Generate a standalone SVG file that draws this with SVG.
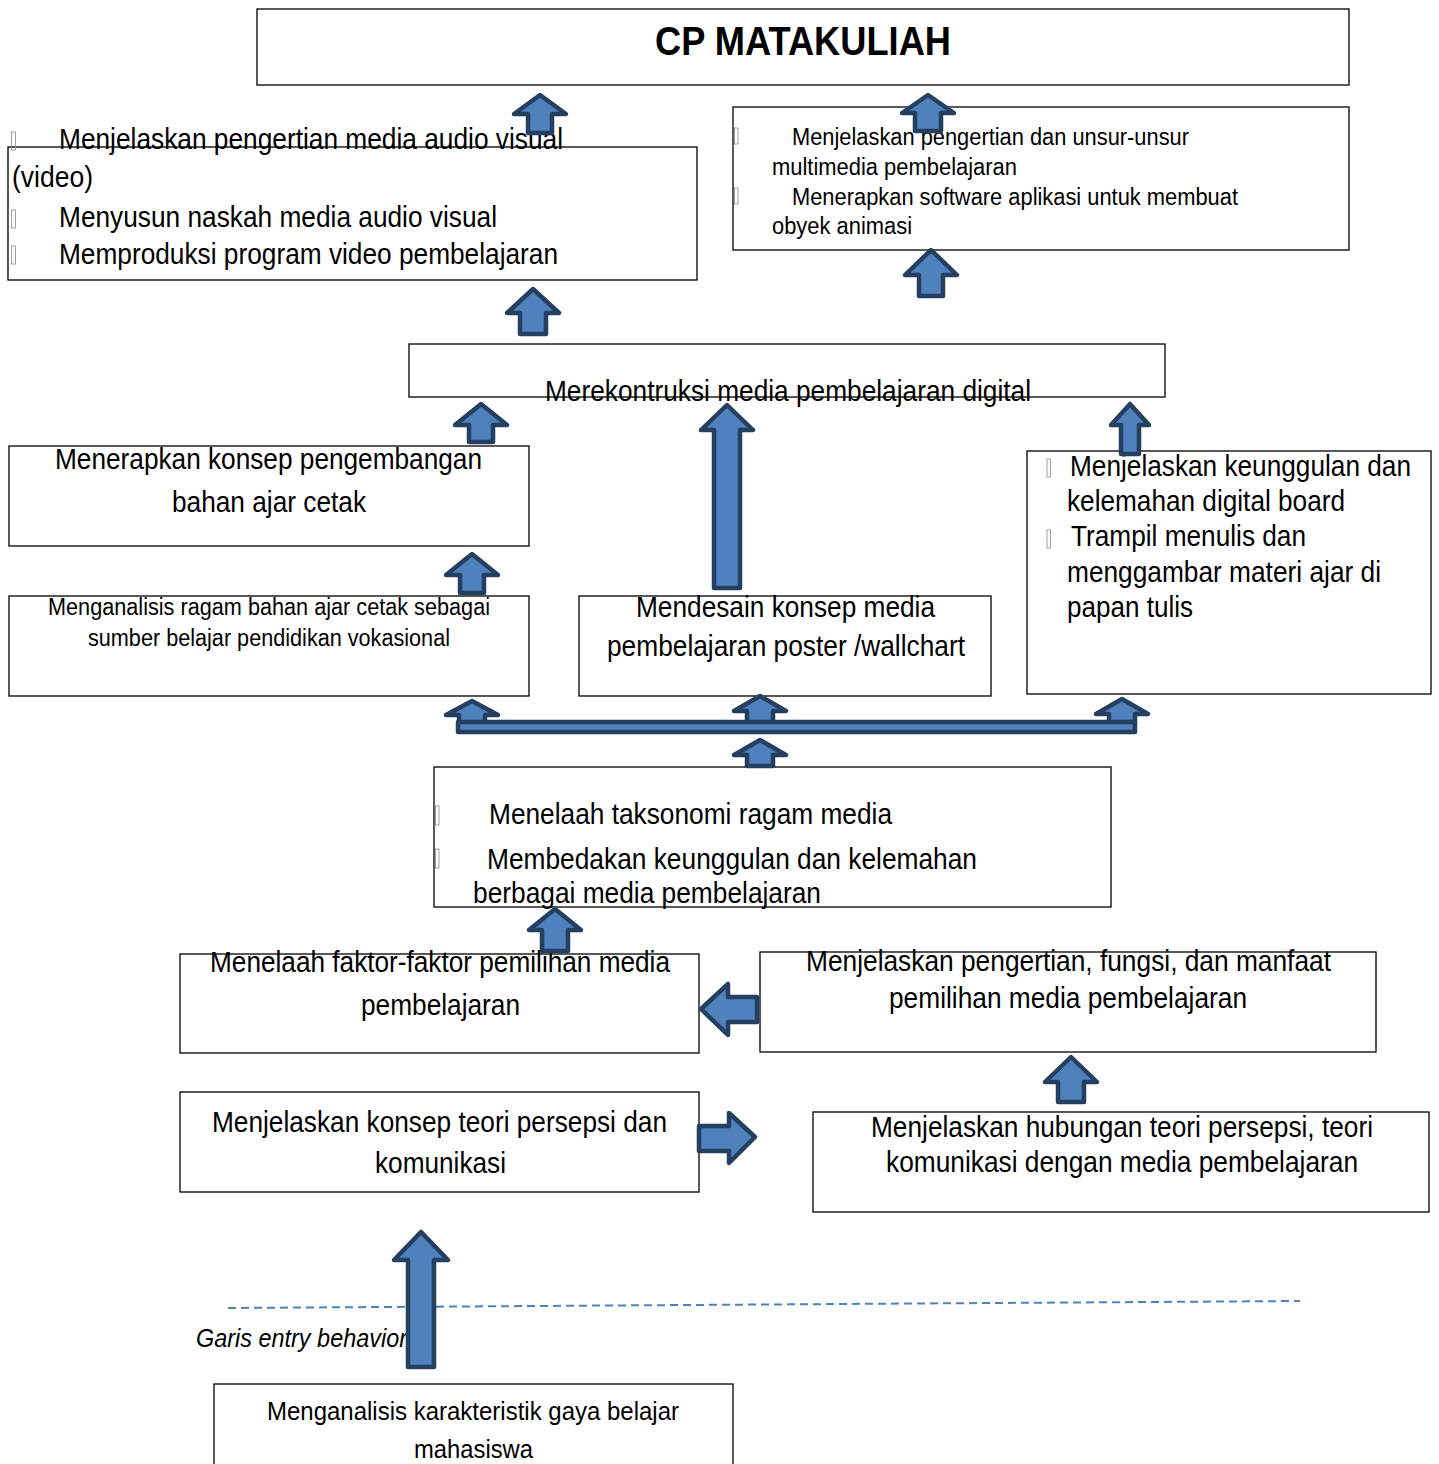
<svg xmlns="http://www.w3.org/2000/svg" width="1439" height="1464" viewBox="0 0 1439 1464">
  <style>
    .box { fill: #ffffff; stroke: #000000; stroke-width: 1.3; }
    .t { font-family: "Liberation Sans", Arial, sans-serif; fill: #000000; }
    .s28 { font-size: 30px; }
    .s25 { font-size: 26px; }
    .s22 { font-size: 23.5px; }
    .tight { font-size: 29px; }
    .title { font-family: "Liberation Sans", Arial, sans-serif; font-size: 41px; font-weight: bold; fill: #000000; }
    .note { font-family: "Liberation Sans", Arial, sans-serif; font-size: 25px; font-style: italic; fill: #000000; }
    .tofu { fill: none; stroke: #8a8a8a; stroke-width: 0.8; }
    .arrow { fill: #4F81BD; stroke: #243F60; stroke-width: 4.5; stroke-linejoin: round; }
    .entry { fill: none; stroke: #4F81BD; stroke-width: 2; stroke-dasharray: 8 5; }
  </style>

  <!-- learning outcome nodes -->
  <g id="cp-matakuliah">
    <rect class="box" x="257" y="9" width="1092" height="76"/>
    <text class="title" x="655" y="55" textLength="296" lengthAdjust="spacingAndGlyphs">CP MATAKULIAH</text>
  </g>

  <g id="audio-visual">
    <rect class="box" x="8" y="147" width="689" height="133"/>
    <rect class="tofu" x="11.5" y="132" width="4" height="18"/>
    <rect class="tofu" x="11.5" y="210" width="4" height="18"/>
    <rect class="tofu" x="11.5" y="246" width="4" height="18"/>
    <text class="t s28" x="59" y="149" textLength="504" lengthAdjust="spacingAndGlyphs">Menjelaskan pengertian media audio visual</text>
    <text class="t s28" x="12" y="187" textLength="81" lengthAdjust="spacingAndGlyphs">(video)</text>
    <text class="t s28" x="59" y="227" textLength="438" lengthAdjust="spacingAndGlyphs">Menyusun naskah media audio visual</text>
    <text class="t s28" x="59" y="264" textLength="499" lengthAdjust="spacingAndGlyphs">Memproduksi program video pembelajaran</text>
  </g>

  <g id="multimedia">
    <rect class="box" x="733" y="107" width="616" height="143"/>
    <rect class="tofu" x="734.5" y="128" width="3.5" height="16"/>
    <rect class="tofu" x="734.5" y="188" width="3.5" height="16"/>
    <text class="t s22" x="792" y="145" textLength="397" lengthAdjust="spacingAndGlyphs">Menjelaskan pengertian dan unsur-unsur</text>
    <text class="t s22" x="772" y="175" textLength="245" lengthAdjust="spacingAndGlyphs">multimedia pembelajaran</text>
    <text class="t s22" x="792" y="205" textLength="446" lengthAdjust="spacingAndGlyphs">Menerapkan software aplikasi untuk membuat</text>
    <text class="t s22" x="772" y="234" textLength="140" lengthAdjust="spacingAndGlyphs">obyek animasi</text>
  </g>

  <g id="rekonstruksi-digital">
    <rect class="box" x="409" y="344" width="756" height="53"/>
    <text class="t s28" x="545" y="401" textLength="486" lengthAdjust="spacingAndGlyphs">Merekontruksi media pembelajaran digital</text>
  </g>

  <g id="bahan-ajar-cetak">
    <rect class="box" x="9" y="446" width="520" height="100"/>
    <text class="t s28" x="55" y="469" textLength="427" lengthAdjust="spacingAndGlyphs">Menerapkan konsep pengembangan</text>
    <text class="t s28" x="172" y="512" textLength="194" lengthAdjust="spacingAndGlyphs">bahan ajar cetak</text>
  </g>

  <g id="ragam-bahan-ajar">
    <rect class="box" x="9" y="596" width="520" height="100"/>
    <text class="t s22" x="48" y="615" textLength="442" lengthAdjust="spacingAndGlyphs">Menganalisis ragam bahan ajar cetak sebagai</text>
    <text class="t s22" x="88" y="646" textLength="362" lengthAdjust="spacingAndGlyphs">sumber belajar pendidikan vokasional</text>
  </g>

  <g id="poster-wallchart">
    <rect class="box" x="579" y="596" width="412" height="100"/>
    <text class="t s28" x="636" y="617" textLength="299" lengthAdjust="spacingAndGlyphs">Mendesain konsep media</text>
    <text class="t s28" x="607" y="656" textLength="358" lengthAdjust="spacingAndGlyphs">pembelajaran poster /wallchart</text>
  </g>

  <g id="digital-board">
    <rect class="box" x="1027" y="451" width="404" height="243"/>
    <rect class="tofu" x="1047" y="459" width="3.5" height="18"/>
    <rect class="tofu" x="1047" y="530" width="3.5" height="18"/>
    <text class="t tight" x="1070" y="476" textLength="341" lengthAdjust="spacingAndGlyphs">Menjelaskan keunggulan dan</text>
    <text class="t s28" x="1067" y="511" textLength="278" lengthAdjust="spacingAndGlyphs">kelemahan digital board</text>
    <text class="t s28" x="1071" y="546" textLength="235" lengthAdjust="spacingAndGlyphs">Trampil menulis dan</text>
    <text class="t s28" x="1067" y="582" textLength="314" lengthAdjust="spacingAndGlyphs">menggambar materi ajar di</text>
    <text class="t s28" x="1067" y="617" textLength="126" lengthAdjust="spacingAndGlyphs">papan tulis</text>
  </g>

  <g id="taksonomi-media">
    <rect class="box" x="434" y="767" width="677" height="140"/>
    <rect class="tofu" x="435.5" y="806" width="3.5" height="19"/>
    <rect class="tofu" x="435.5" y="849" width="3.5" height="19"/>
    <text class="t s28" x="489" y="824" textLength="403" lengthAdjust="spacingAndGlyphs">Menelaah taksonomi ragam media</text>
    <text class="t s28" x="487" y="869" textLength="490" lengthAdjust="spacingAndGlyphs">Membedakan keunggulan dan kelemahan</text>
    <text class="t s28" x="473" y="903" textLength="348" lengthAdjust="spacingAndGlyphs">berbagai media pembelajaran</text>
  </g>

  <g id="faktor-pemilihan">
    <rect class="box" x="180" y="954" width="519" height="99"/>
    <text class="t s28" x="210" y="972" textLength="460" lengthAdjust="spacingAndGlyphs">Menelaah faktor-faktor pemilihan media</text>
    <text class="t s28" x="361" y="1015" textLength="159" lengthAdjust="spacingAndGlyphs">pembelajaran</text>
  </g>

  <g id="fungsi-manfaat">
    <rect class="box" x="760" y="952" width="616" height="100"/>
    <text class="t s28" x="806" y="971" textLength="525" lengthAdjust="spacingAndGlyphs">Menjelaskan pengertian, fungsi, dan manfaat</text>
    <text class="t s28" x="889" y="1008" textLength="358" lengthAdjust="spacingAndGlyphs">pemilihan media pembelajaran</text>
  </g>

  <g id="teori-persepsi">
    <rect class="box" x="180" y="1092" width="519" height="100"/>
    <text class="t s28" x="212" y="1132" textLength="455" lengthAdjust="spacingAndGlyphs">Menjelaskan konsep teori persepsi dan</text>
    <text class="t s28" x="375" y="1173" textLength="131" lengthAdjust="spacingAndGlyphs">komunikasi</text>
  </g>

  <g id="hubungan-teori">
    <rect class="box" x="813" y="1112" width="616" height="100"/>
    <text class="t tight" x="871" y="1137" textLength="502" lengthAdjust="spacingAndGlyphs">Menjelaskan hubungan teori persepsi, teori</text>
    <text class="t s28" x="886" y="1172" textLength="472" lengthAdjust="spacingAndGlyphs">komunikasi dengan media pembelajaran</text>
  </g>

  <g id="gaya-belajar">
    <rect class="box" x="214" y="1384" width="519" height="90"/>
    <text class="t s25" x="267" y="1420" textLength="412" lengthAdjust="spacingAndGlyphs">Menganalisis karakteristik gaya belajar</text>
    <text class="t s25" x="414" y="1458" textLength="119" lengthAdjust="spacingAndGlyphs">mahasiswa</text>
  </g>

  <!-- entry behavior line -->
  <g id="entry-behavior">
    <line class="entry" x1="228" y1="1308" x2="1300" y2="1301"/>
    <text class="note" x="196" y="1347" textLength="211" lengthAdjust="spacingAndGlyphs">Garis entry behavior</text>
  </g>

  <!-- block arrows between nodes -->
  <g id="connectors">
    <path class="arrow" d="M540 95 L566 114 L552 114 L552 133 L528 133 L528 114 L514 114 Z"/>
    <path class="arrow" d="M928 95 L954 113 L941 113 L941 131 L915 131 L915 113 L902 113 Z"/>
    <path class="arrow" d="M533 289 L559 313 L546 313 L546 334 L520 334 L520 313 L507 313 Z"/>
    <path class="arrow" d="M931 250 L957 275 L943 275 L943 296 L919 296 L919 275 L905 275 Z"/>
    <path class="arrow" d="M481 404 L507 425 L493 425 L493 442 L469 442 L469 425 L455 425 Z"/>
    <path class="arrow" d="M727 405 L753 430 L740 430 L740 588 L714 588 L714 430 L701 430 Z"/>
    <path class="arrow" d="M1130 404 L1149 425 L1139 425 L1139 454 L1121 454 L1121 425 L1111 425 Z"/>
    <path class="arrow" d="M472 554 L498 575 L484 575 L484 593 L460 593 L460 575 L446 575 Z"/>
    <path class="arrow" d="M472 701 L498 715 L485 715 L485 724 L459 724 L459 715 L446 715 Z"/>
    <path class="arrow" d="M760 696 L786 711 L773 711 L773 724 L747 724 L747 711 L734 711 Z"/>
    <path class="arrow" d="M1122 699 L1148 714 L1135 714 L1135 724 L1109 724 L1109 714 L1096 714 Z"/>
    <rect class="arrow" x="458" y="722" width="677" height="10" stroke-width="5"/>
    <path class="arrow" d="M760 740 L786 755 L773 755 L773 766 L747 766 L747 755 L734 755 Z"/>
    <path class="arrow" d="M555 909 L581 930 L568 930 L568 951 L542 951 L542 930 L529 930 Z"/>
    <path class="arrow" d="M701 1009 L728 984 L728 997 L757 997 L757 1022 L728 1022 L728 1035 Z"/>
    <path class="arrow" d="M755 1137 L729 1163 L729 1151 L699 1151 L699 1126 L729 1126 L729 1113 Z"/>
    <path class="arrow" d="M1071 1057 L1097 1082 L1084 1082 L1084 1102 L1058 1102 L1058 1082 L1045 1082 Z"/>
    <path class="arrow" d="M421 1232 L448 1260 L434 1260 L434 1367 L408 1367 L408 1260 L394 1260 Z"/>
  </g>
</svg>
